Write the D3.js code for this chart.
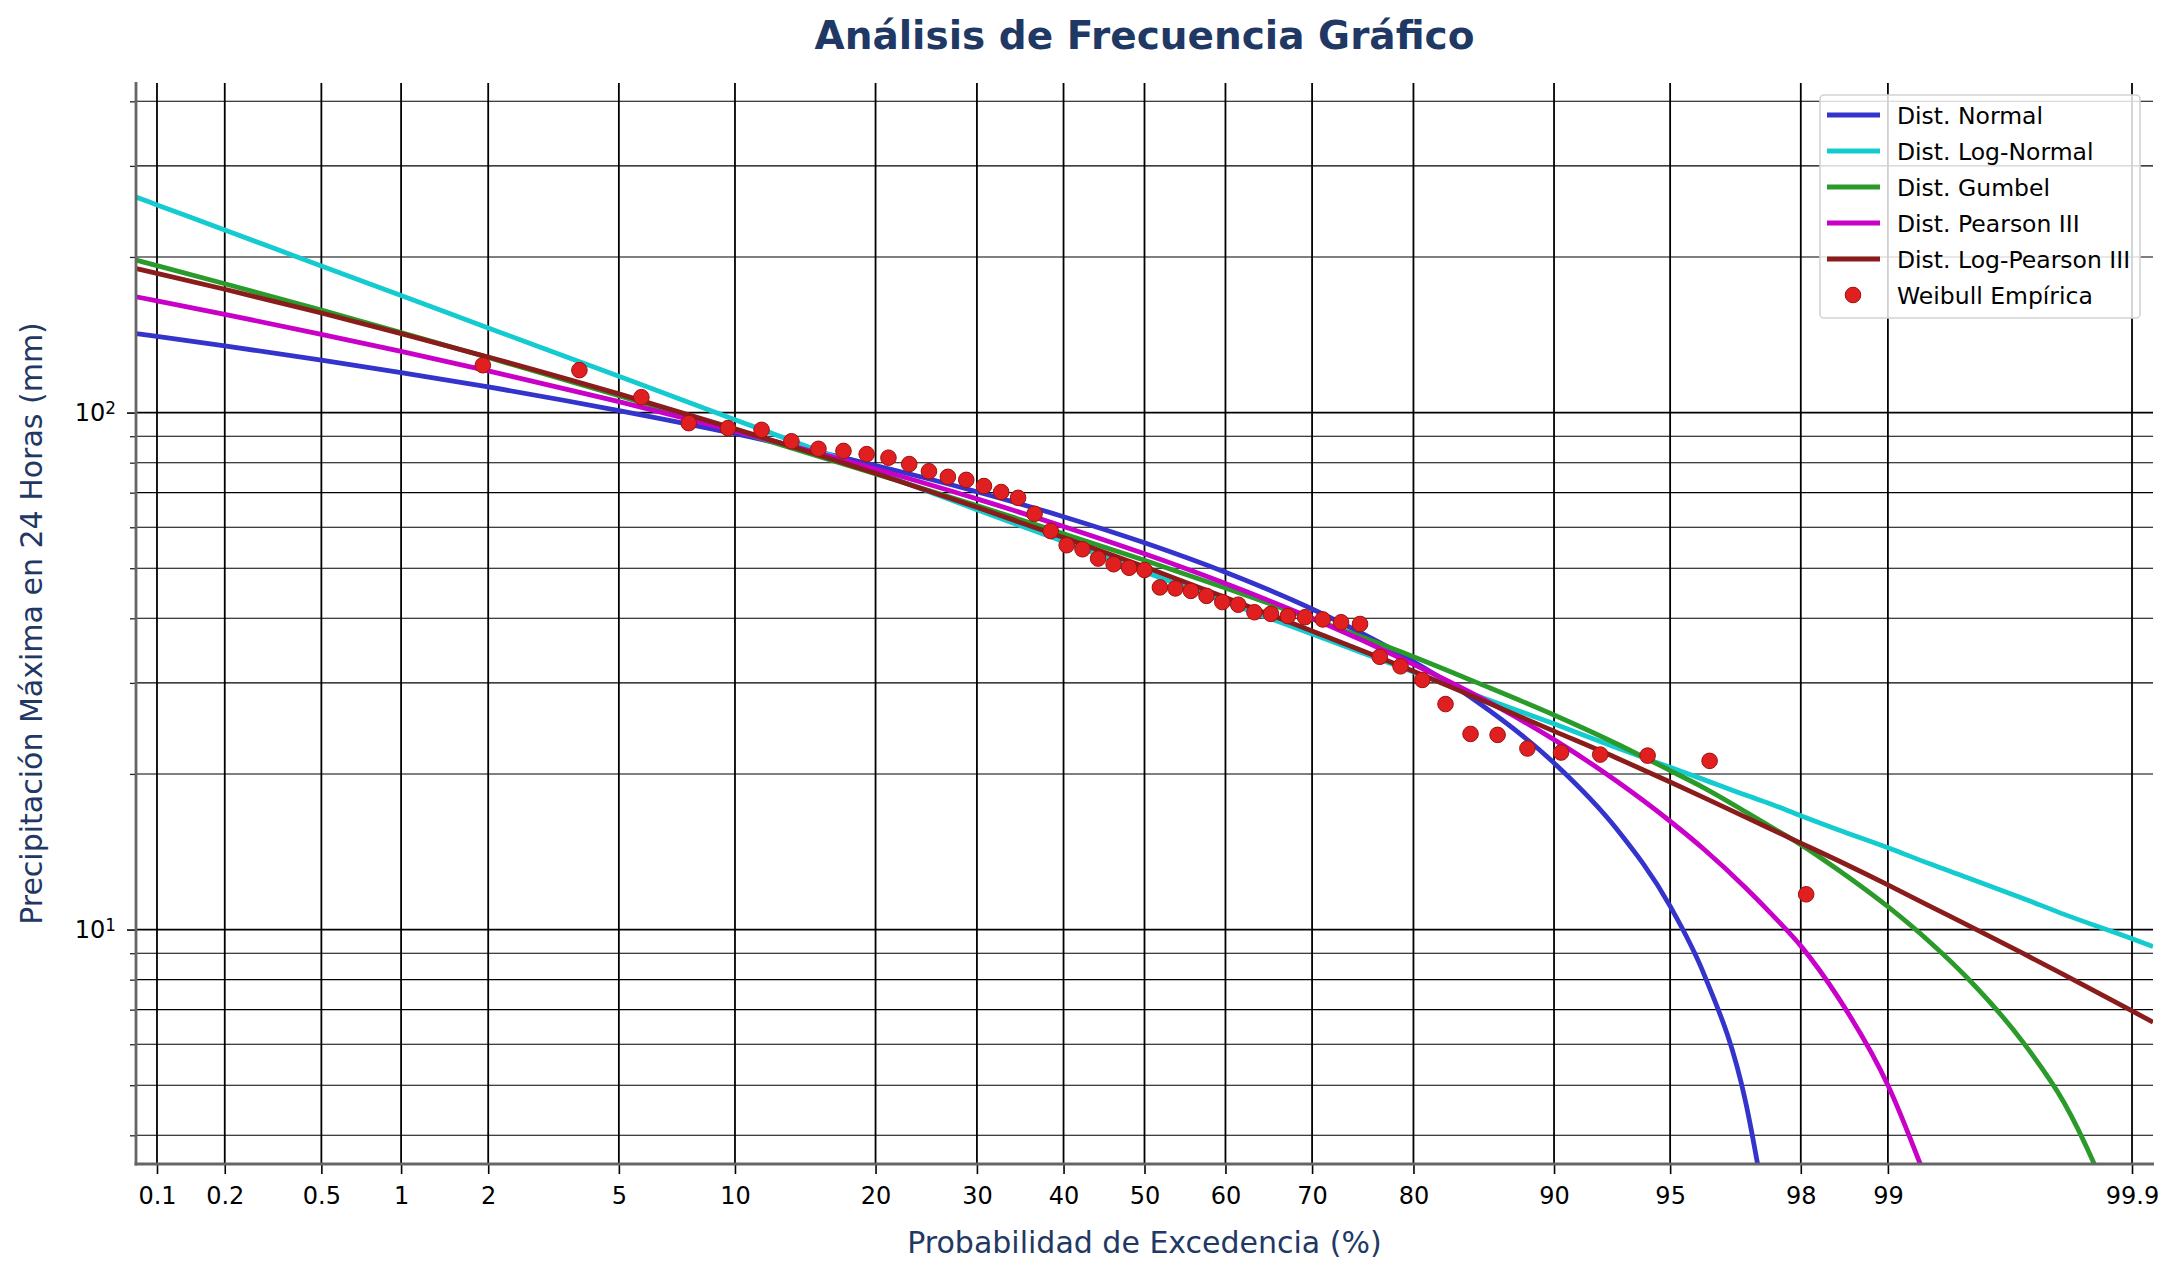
<!DOCTYPE html>
<html>
<head>
<meta charset="utf-8">
<script src="https://cdn.jsdelivr.net/npm/d3@7"></script>
<style>
  body { margin: 0; background: #fff; }
  svg { display: block; }
  text { font-family: "DejaVu Sans", sans-serif; }
</style>
</head>
<body>
<svg id="chart"></svg>
<script>
// exceedance probabilities (%) where the fitted curves were read
const probs = [0.08, 0.1, 0.2, 0.5, 1, 2, 5, 10, 20, 30, 40, 50, 60, 70, 80, 85, 90, 93, 95, 96, 97, 97.5, 98, 98.5, 99, 99.3, 99.5, 99.7, 99.8, 99.9, 99.92];

const normalVals = [142.2, 140.4, 134.6, 126.3, 119.5, 112.1, 100.9, 91.0, 79.0, 70.3, 62.9, 56.0, 49.1, 41.7, 33.0, 27.7, 21.0, 15.7, 11.1, 8.2, 4.65, 2.5, null, null, null, null, null, null, null, null, null];
const logNormalVals = [261.1, 252.2, 225.5, 192.1, 168.4, 145.8, 117.5, 96.9, 76.8, 64.9, 56.3, 49.2, 43.0, 37.3, 31.5, 28.4, 25.0, 22.5, 20.6, 19.5, 18.2, 17.5, 16.6, 15.6, 14.4, 13.4, 12.6, 11.5, 10.7, 9.6, 9.27];
const gumbelVals = [197.2, 192.4, 177.5, 157.8, 142.8, 127.8, 107.8, 92.3, 76.1, 66.1, 58.3, 51.8, 45.8, 39.9, 33.7, 30.1, 26.0, 22.9, 20.3, 18.8, 16.9, 15.8, 14.6, 13.05, 11.07, 9.46, 8.05, 6.07, 4.62, 2.35, null];
const pearsonVals = [167.5, 164.5, 154.9, 141.7, 131.3, 120.4, 105.0, 92.2, 77.8, 68.1, 60.2, 53.3, 46.7, 40.0, 32.6, 28.4, 23.3, 19.4, 16.2, 14.3, 12.05, 10.75, 9.3, 7.4, 5.0, 3.15, null, null, null, null, null];
const logPearsonVals = [189.9, 185.9, 173.2, 155.8, 142.1, 128.1, 108.7, 93.0, 76.3, 65.6, 57.3, 50.3, 43.9, 37.8, 31.6, 28.1, 24.2, 21.5, 19.3, 18.0, 16.5, 15.65, 14.7, 13.6, 12.2, 11.1, 10.2, 9.0, 8.17, 6.96, 6.62];

// Weibull empirical points
const weibullProbs = [1.92, 3.85, 5.77, 7.69, 9.62, 11.54, 13.46, 15.38, 17.31, 19.23, 21.15, 23.08, 25.0, 26.92, 28.85, 30.77, 32.69, 34.62, 36.54, 38.46, 40.38, 42.31, 44.23, 46.15, 48.08, 50.0, 51.92, 53.85, 55.77, 57.69, 59.62, 61.54, 63.46, 65.38, 67.31, 69.23, 71.15, 73.08, 75.0, 76.92, 78.85, 80.77, 82.69, 84.62, 86.54, 88.46, 90.38, 92.31, 94.23, 96.15, 98.08];
const weibullVals = [123.5, 120.8, 107.1, 95.4, 93.3, 92.6, 88.0, 85.1, 84.3, 83.1, 81.8, 79.5, 77.0, 75.1, 74.1, 72.1, 70.2, 68.4, 63.7, 59.0, 55.4, 54.4, 52.2, 50.9, 50.1, 49.6, 45.9, 45.7, 45.2, 44.2, 43.0, 42.5, 41.1, 40.8, 40.4, 40.2, 39.8, 39.3, 39.0, 33.7, 32.3, 30.4, 27.3, 23.9, 23.8, 22.4, 22.0, 21.8, 21.7, 21.2, 11.7];

const xTicks = [0.1, 0.2, 0.5, 1, 2, 5, 10, 20, 30, 40, 50, 60, 70, 80, 90, 95, 98, 99, 99.9];
const xTickLabels = ["0.1", "0.2", "0.5", "1", "2", "5", "10", "20", "30", "40", "50", "60", "70", "80", "90", "95", "98", "99", "99.9"];
const yMajor = [10, 100];
const yMajorExp = ["1", "2"];
const yMinor = [4, 5, 6, 7, 8, 9, 20, 30, 40, 50, 60, 70, 80, 90, 200, 300, 400];

const seriesNames = ["Dist. Normal", "Dist. Log-Normal", "Dist. Gumbel", "Dist. Pearson III", "Dist. Log-Pearson III"];
const seriesColors = ["#3434cc", "#14cbcf", "#2a9a2a", "#c800c8", "#8b1c1c"];
const seriesVals = [normalVals, logNormalVals, gumbelVals, pearsonVals, logPearsonVals];

const width = 2176;
const height = 1280;
const plotL = 136, plotR = 2153, plotT = 83, plotB = 1164;
const navy = "#1f3864";
const curveWidth = 4.8;

// inverse standard normal cdf (Acklam), used for the probability axis
function probit(p) {
  const a = [-3.969683028665376e+01, 2.209460984245205e+02, -2.759285104469687e+02, 1.383577518672690e+02, -3.066479806614716e+01, 2.506628277459239e+00];
  const b = [-5.447609879822406e+01, 1.615858368580409e+02, -1.556989798598866e+02, 6.680131188771972e+01, -1.328068155288572e+01];
  const c = [-7.784894002430293e-03, -3.223964580411365e-01, -2.400758277161838e+00, -2.549732539343734e+00, 4.374664141464968e+00, 2.938163982698783e+00];
  const d = [7.784695709041462e-03, 3.224671290700398e-01, 2.445134137142996e+00, 3.754408661907416e+00];
  const pl = 0.02425;
  if (p < pl) {
    const q = Math.sqrt(-2 * Math.log(p));
    return (((((c[0] * q + c[1]) * q + c[2]) * q + c[3]) * q + c[4]) * q + c[5]) / ((((d[0] * q + d[1]) * q + d[2]) * q + d[3]) * q + 1);
  }
  if (p <= 1 - pl) {
    const q = p - 0.5, r = q * q;
    return (((((a[0] * r + a[1]) * r + a[2]) * r + a[3]) * r + a[4]) * r + a[5]) * q / (((((b[0] * r + b[1]) * r + b[2]) * r + b[3]) * r + b[4]) * r + 1);
  }
  const q = Math.sqrt(-2 * Math.log(1 - p));
  return -(((((c[0] * q + c[1]) * q + c[2]) * q + c[3]) * q + c[4]) * q + c[5]) / ((((d[0] * q + d[1]) * q + d[2]) * q + d[3]) * q + 1);
}

const zScale = d3.scaleLinear().domain([probit(0.0008), probit(0.9992)]).range([plotL, plotR]);
const x = (p) => zScale(probit(p / 100));
const y = d3.scaleLog().domain([3.52, 434]).range([plotB, plotT]);

const svg = d3.select("#chart").attr("width", width).attr("height", height);

svg.append("defs").append("clipPath").attr("id", "plot-clip")
  .append("rect").attr("x", plotL).attr("y", plotT).attr("width", plotR - plotL).attr("height", plotB - plotT);

// grid
const grid = svg.append("g");
grid.selectAll(".vgrid").data(xTicks).join("line")
  .attr("x1", (d) => x(d)).attr("x2", (d) => x(d))
  .attr("y1", plotT).attr("y2", plotB)
  .attr("stroke", "#000").attr("stroke-width", 1.8);
grid.selectAll(".hminor").data(yMinor).join("line")
  .attr("x1", plotL).attr("x2", plotR)
  .attr("y1", (d) => y(d)).attr("y2", (d) => y(d))
  .attr("stroke", "#000").attr("stroke-width", 1.1);
grid.selectAll(".hmajor").data(yMajor).join("line")
  .attr("x1", plotL).attr("x2", plotR)
  .attr("y1", (d) => y(d)).attr("y2", (d) => y(d))
  .attr("stroke", "#000").attr("stroke-width", 1.8);

// fitted curves
const line = d3.line()
  .defined((d) => d[1] != null)
  .x((d) => x(d[0]))
  .y((d) => y(d[1]))
  .curve(d3.curveMonotoneX);

svg.append("g").attr("clip-path", "url(#plot-clip)")
  .selectAll("path").data(seriesVals).join("path")
  .attr("d", (vals) => line(probs.map((p, i) => [p, vals[i]])))
  .attr("fill", "none")
  .attr("stroke", (d, i) => seriesColors[i])
  .attr("stroke-width", curveWidth)
  .attr("stroke-linejoin", "round");

// empirical points
svg.append("g").selectAll("circle").data(weibullVals).join("circle")
  .attr("cx", (d, i) => x(weibullProbs[i]))
  .attr("cy", (d) => y(d))
  .attr("r", 7.8)
  .attr("fill", "#e02020")
  .attr("stroke", "#a01010")
  .attr("stroke-width", 1);

// x axis
const xAxis = svg.append("g").attr("transform", `translate(0,${plotB})`)
  .call(d3.axisBottom(zScale)
    .tickValues(xTicks.map((p) => probit(p / 100)))
    .tickFormat((d, i) => xTickLabels[i])
    .tickSize(10).tickPadding(13));
xAxis.select(".domain").remove();
xAxis.selectAll(".tick line").attr("stroke", "#000").attr("stroke-width", 1.6);
xAxis.selectAll(".tick text").attr("font-size", 24).attr("fill", "#000")
  .attr("font-family", "DejaVu Sans");

// y axis, minor ticks
const yMinorAxis = svg.append("g").attr("transform", `translate(${plotL},0)`)
  .call(d3.axisLeft(y).tickValues(yMinor).tickFormat("").tickSize(6));
yMinorAxis.select(".domain").remove();
yMinorAxis.selectAll(".tick line").attr("stroke", "#222").attr("stroke-width", 1.3);

// y axis, major ticks with 10^n labels
const yMajorAxis = svg.append("g").attr("transform", `translate(${plotL},0)`)
  .call(d3.axisLeft(y).tickValues(yMajor).tickFormat(() => "10").tickSize(9).tickPadding(11));
yMajorAxis.select(".domain").remove();
yMajorAxis.selectAll(".tick line").attr("stroke", "#222").attr("stroke-width", 1.8);
yMajorAxis.selectAll(".tick text")
  .attr("font-size", 24).attr("fill", "#000").attr("font-family", "DejaVu Sans")
  .each(function (d, i) {
    d3.select(this).append("tspan")
      .attr("dy", "-0.42em")
      .attr("font-size", 16.8)
      .text(yMajorExp[i]);
  });

// spines
svg.append("line").attr("x1", plotL).attr("x2", plotL).attr("y1", plotT - 1).attr("y2", plotB + 1.4)
  .attr("stroke", "#666").attr("stroke-width", 2.8);
svg.append("line").attr("x1", plotL - 1.4).attr("x2", plotR + 1).attr("y1", plotB).attr("y2", plotB)
  .attr("stroke", "#666").attr("stroke-width", 2.8);

// legend
const lg = svg.append("g");
lg.append("rect")
  .attr("x", 1820).attr("y", 95).attr("width", 320).attr("height", 223)
  .attr("rx", 4)
  .attr("fill", "#fff").attr("fill-opacity", 0.82)
  .attr("stroke", "#d4d4d4").attr("stroke-width", 1.6);
const rowY = (i) => 115 + i * 36;
seriesNames.forEach((name, i) => {
  lg.append("line")
    .attr("x1", 1827).attr("x2", 1880)
    .attr("y1", rowY(i)).attr("y2", rowY(i))
    .attr("stroke", seriesColors[i]).attr("stroke-width", curveWidth);
  lg.append("text")
    .attr("x", 1897).attr("y", rowY(i) + 8.5)
    .attr("font-size", 23.5).attr("fill", "#000")
    .text(name);
});
lg.append("circle")
  .attr("cx", 1853).attr("cy", rowY(5)).attr("r", 7.8)
  .attr("fill", "#e02020").attr("stroke", "#a01010").attr("stroke-width", 1);
lg.append("text")
  .attr("x", 1897).attr("y", rowY(5) + 8.5)
  .attr("font-size", 23.5).attr("fill", "#000")
  .text("Weibull Empírica");

// titles
svg.append("text")
  .attr("x", (plotL + plotR) / 2).attr("y", 49)
  .attr("text-anchor", "middle")
  .attr("font-size", 39).attr("font-weight", "bold").attr("fill", navy)
  .text("Análisis de Frecuencia Gráfico");

svg.append("text")
  .attr("x", (plotL + plotR) / 2).attr("y", 1253)
  .attr("text-anchor", "middle")
  .attr("font-size", 30).attr("fill", navy)
  .text("Probabilidad de Excedencia (%)");

svg.append("text")
  .attr("transform", `translate(42,${(plotT + plotB) / 2}) rotate(-90)`)
  .attr("text-anchor", "middle")
  .attr("font-size", 30).attr("fill", navy)
  .text("Precipitación Máxima en 24 Horas (mm)");
</script>
</body>
</html>
